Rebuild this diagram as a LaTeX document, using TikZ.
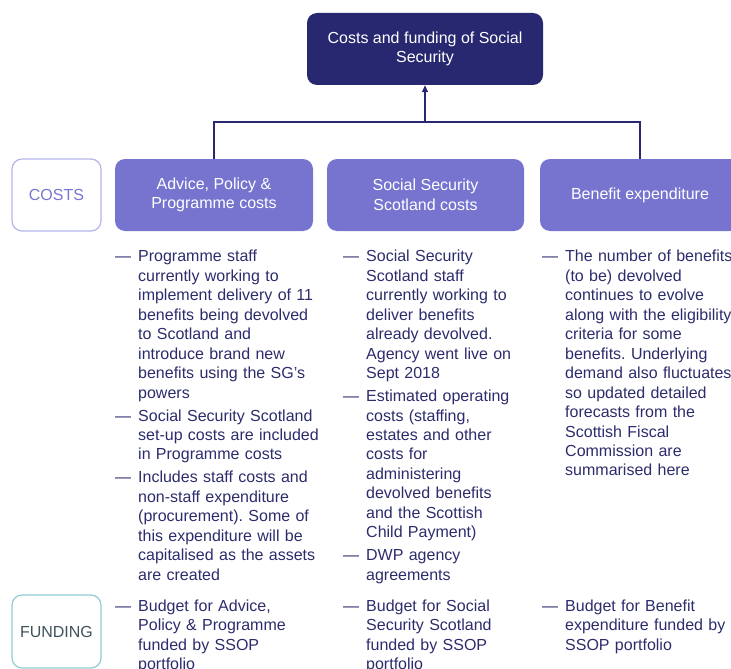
\documentclass[tikz,border=0pt]{standalone}
\usepackage{fontspec}
\setmainfont{Liberation Sans}
\usepackage{xcolor}
\usetikzlibrary{arrows.meta}
\definecolor{ssnavy}{RGB}{40,40,112}
\definecolor{ssviolet}{RGB}{118,116,207}
\definecolor{sstext}{RGB}{44,44,108}
\definecolor{costline}{RGB}{182,180,236}
\definecolor{costtext}{RGB}{120,118,208}
\definecolor{fundline}{RGB}{142,206,213}
\definecolor{fundtext}{RGB}{62,82,92}
\frenchspacing
\newcommand{\textsz}{\fontsize{16}{19.45}\selectfont}
\newcommand{\dashitem}[1]{\par\noindent\makebox[23pt][l]{—}\parbox[t]{220pt}{#1\strut}\par\prevdepth=\dp\strutbox\vspace{3.5pt}}
\tikzstyle{topbox} = [rounded corners=10pt, fill=ssnavy, text=white, minimum width=236pt, minimum height=72pt, align=center, font=\textsz]
\tikzstyle{groupbox} = [rounded corners=10pt, fill=ssviolet, text=white, minimum height=72pt, align=center, font=\textsz]
\tikzstyle{tagbox} = [rounded corners=10pt, line width=1.2pt, fill=white, minimum width=89pt, minimum height=72pt, font=\textsz]
\tikzstyle{notes} = [anchor=north west, inner sep=0pt, text width=243pt, text=sstext, font=\textsz]
\tikzstyle{link} = [draw=ssnavy, line width=1.5pt]

\begin{document}
\begin{tikzpicture}[x=1pt,y=-1pt]
\useasboundingbox (0,0) rectangle (731,669);
\clip (0,0) rectangle (731,669);

\node[topbox] (top) at (425,49) {Costs and funding of Social\\Security};
\node[tagbox, draw=costline, text=costtext] (costs) at (56.5,195) {COSTS};
\node[groupbox, minimum width=198pt] (adv) at (214,195) {Advice, Policy \&\\Programme costs};
\node[groupbox, minimum width=197pt] (sss) at (425.5,195) {Social Security\\Scotland costs};
\node[groupbox, minimum width=200pt] (ben) at (640,195) {Benefit expenditure};
\node[tagbox, draw=fundline, text=fundtext, minimum height=73pt] (funding) at (56.5,631.5) {FUNDING};

\coordinate (bar) at (425,122);
\foreach \col in {adv,ben}
{
	\draw[link] (\col.north) |- (bar);
}
\draw[link, -{Triangle[length=7pt,width=6pt]}] (bar) -- (top.south);

\node[notes] (advnotes) at (115,242.3) {%
\dashitem{Programme staff\\currently working to\\implement delivery of 11\\benefits being devolved\\to Scotland and\\introduce brand new\\benefits using the SG’s\\powers}%
\dashitem{Social Security Scotland\\set-up costs are included\\in Programme costs}%
\dashitem{Includes staff costs and\\non-staff expenditure\\(procurement). Some of\\this expenditure will be\\capitalised as the assets\\are created}};
\node[notes] (sssnotes) at (343,242.3) {%
\dashitem{Social Security\\Scotland staff\\currently working to\\deliver benefits\\already devolved.\\Agency went live on\\Sept 2018}%
\dashitem{Estimated operating\\costs (staffing,\\estates and other\\costs for\\administering\\devolved benefits\\and the Scottish\\Child Payment)}%
\dashitem{DWP agency\\agreements}};
\node[notes] (bennotes) at (542,242.3) {%
\dashitem{The number of benefits\\(to be) devolved\\continues to evolve\\along with the eligibility\\criteria for some\\benefits. Underlying\\demand also fluctuates\\so updated detailed\\forecasts from the\\Scottish Fiscal\\Commission are\\summarised here}};

\node[notes] (advfund) at (115,591.5) {\dashitem{Budget for Advice,\\Policy \& Programme\\funded by SSOP\\portfolio}};
\node[notes] (sssfund) at (343,591.5) {\dashitem{Budget for Social\\Security Scotland\\funded by SSOP\\portfolio}};
\node[notes] (benfund) at (542,591.5) {\dashitem{Budget for Benefit\\expenditure funded by\\SSOP portfolio}};

\end{tikzpicture}
\end{document}
